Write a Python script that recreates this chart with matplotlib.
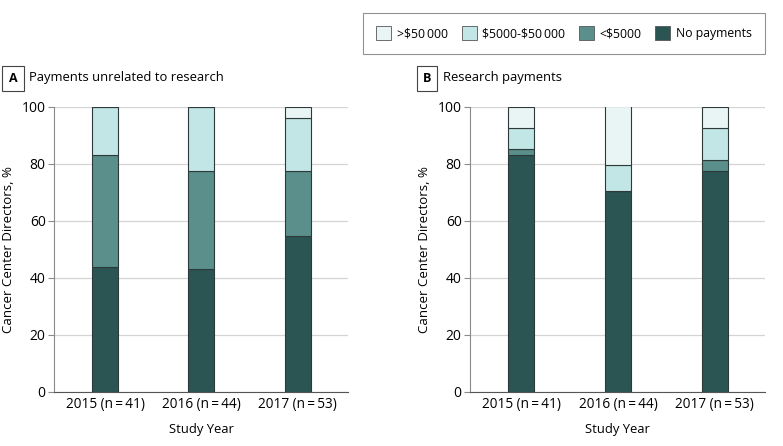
import matplotlib
matplotlib.use("Agg")
import matplotlib.pyplot as plt
from matplotlib.patches import Patch
import numpy as np

plt.rcParams['font.family'] = ['Open Sans', 'DejaVu Sans']

years = ["2015 (n\u2009=\u200941)", "2016 (n\u2009=\u200944)", "2017 (n\u2009=\u200953)"]
categories = ["No payments", "<\\$5000", "\\$5000-\\$50\u2009000", ">\\$50\u2009000"]
colors = ["#2b5553", "#5a8f8b", "#c2e6e5", "#e9f4f4"]

# Panel A: payments unrelated to research (%)
a_none = [43.9, 43.2, 54.7]
a_lt5k = [39.0, 34.1, 22.6]
a_mid = [17.1, 22.7, 18.9]
a_gt50k = [0.0, 0.0, 3.8]

# Panel B: research payments (%)
b_none = [82.9, 70.5, 77.4]
b_lt5k = [2.4, 0.0, 3.8]
b_mid = [7.3, 9.1, 11.3]
b_gt50k = [7.3, 20.5, 7.5]

W, H = 783, 446
fig = plt.figure(figsize=(W / 100, H / 100), dpi=100)

def px_axes(x0, x1, ytop, ybot):
    return fig.add_axes([x0 / W, 1 - ybot / H, (x1 - x0) / W, (ybot - ytop) / H])

axA = px_axes(54, 348, 106.7, 391.7)
axB = px_axes(470, 765, 106.7, 391.7)

def draw(ax, series, letter, title, xbox):
    x = np.arange(len(years))
    bottom = np.zeros(len(years))
    for vals, c in zip(series, colors):
        vals = np.array(vals)
        ax.bar(x, vals, 0.27, bottom=bottom, color=c, edgecolor="#2e3a3a",
               linewidth=0.8, zorder=3)
        bottom += vals
    ax.set_xlim(-0.53, 2.52)
    ax.set_ylim(0, 100)
    ax.set_yticks([0, 20, 40, 60, 80, 100])
    ax.set_xticks(x)
    ax.set_xticklabels(years)
    ax.grid(axis="y", color="#d4d4d4", linewidth=0.9, zorder=0)
    ax.set_axisbelow(True)
    for s in ["top", "right"]:
        ax.spines[s].set_visible(False)
    ax.spines["left"].set_color("#8a8a8a")
    ax.spines["bottom"].set_color("#555555")
    ax.tick_params(axis="y", length=4, color="#8a8a8a", labelsize=10, pad=2)
    ax.tick_params(axis="x", length=0, labelsize=9.8, pad=4)
    ax.set_xlabel("Study Year", fontsize=9.4, labelpad=7.5)
    ax.set_ylabel("Cancer Center Directors, %", fontsize=9.5, labelpad=5)
    fig.text((xbox + 10) / W, 1 - 78.5 / H, letter, ha="center", va="center",
             fontsize=9, fontweight="bold",
             bbox=dict(boxstyle="square,pad=0.5", fc="white", ec="#444444", lw=0.8))
    fig.text((xbox + 26) / W, 1 - 78 / H, title, ha="left", va="center", fontsize=9.4)

draw(axA, [a_none, a_lt5k, a_mid, a_gt50k], "A", "Payments unrelated to research", 3)
draw(axB, [b_none, b_lt5k, b_mid, b_gt50k], "B", "Research payments", 417)

handles = [Patch(facecolor=c, edgecolor="#555555", linewidth=0.6, label=l)
           for c, l in zip(colors[::-1], categories[::-1])]
leg = fig.legend(handles=handles, ncol=4, loc="upper right",
                 bbox_to_anchor=(765 / W, 1 - 13 / H), fontsize=8.8, frameon=True,
                 fancybox=False, edgecolor="#777777", handlelength=1.24,
                 handleheight=1.3, columnspacing=1.15, handletextpad=0.42,
                 borderpad=1.1, borderaxespad=0)
leg.get_frame().set_linewidth(0.8)

fig.savefig("out.png", dpi=100)
